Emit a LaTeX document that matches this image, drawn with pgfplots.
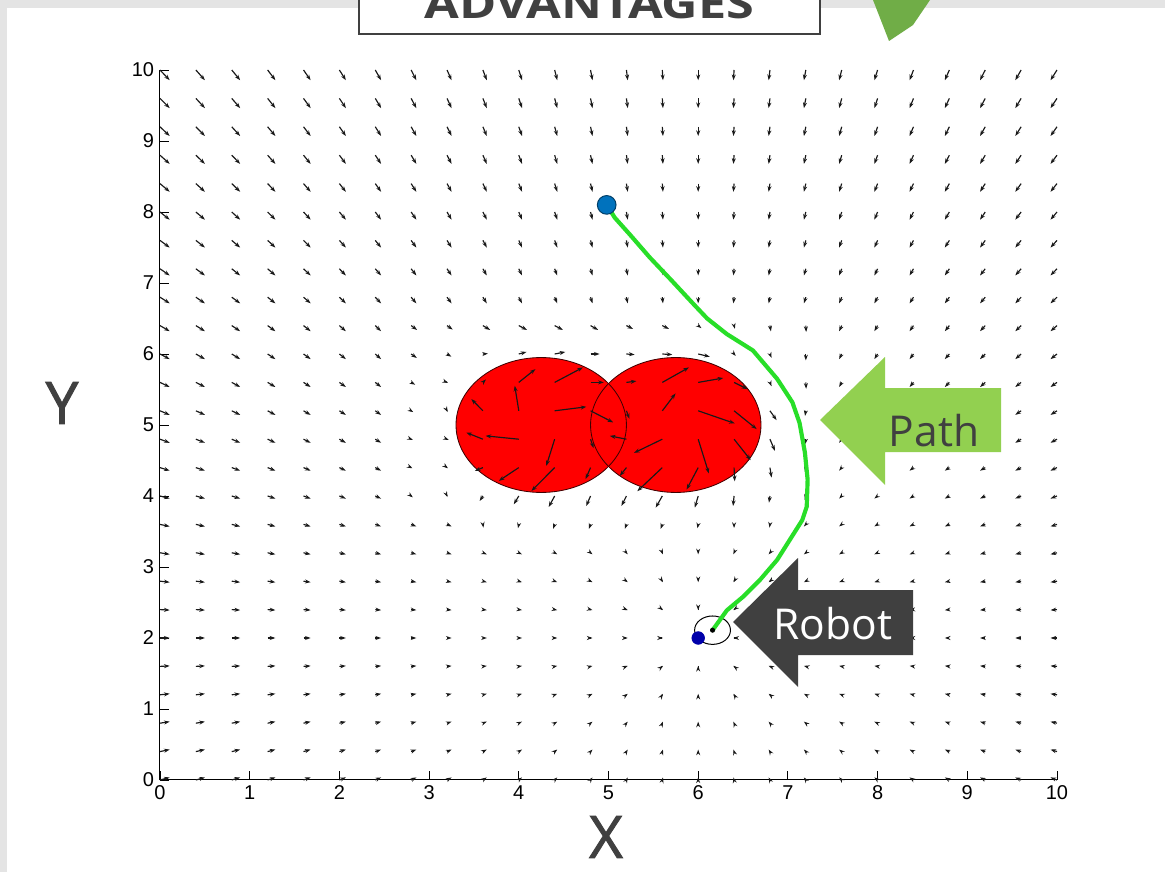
\documentclass[border=0pt]{standalone}
\usepackage{pgfplots}
\pgfplotsset{compat=1.18}
\usepackage{pgfplotstable}
\usetikzlibrary{arrows.meta}
\usepackage{fontspec}
\setmainfont{Liberation Sans}
\newfontfamily\opensans{Open Sans}
\newfontfamily\opensansheavy[FakeBold=1.6]{Open Sans}
\definecolor{slidegray}{HTML}{404040}
\definecolor{pathgreen}{HTML}{92D050}
\definecolor{accentgreen}{HTML}{70AD47}
\definecolor{edgegray}{HTML}{E4E4E4}
\definecolor{trail}{RGB}{40,222,40}
\definecolor{startblue}{RGB}{0,114,189}
\definecolor{goalblue}{RGB}{0,0,170}

% potential field sampled on a 0.4 grid: position (x,y) and force (u,v)
\pgfplotstableread[row sep=\\]{
x y u v\\
0 10 6 -8\\ 0.4 10 5.6 -8\\ 0.8 10 5.2 -8\\ 1.2 10 4.8 -8\\ 1.6 10 4.4 -8\\ 2 10 4 -8\\ 2.4 10 3.6 -8\\ 2.8 10 3.2 -8\\ 3.2 10 2.8 -8\\ 3.6 10 2.4 -8\\ 4 10 2 -8\\ 4.4 10 1.6 -8\\ 4.8 10 1.2 -8\\
5.2 10 0.8 -8\\ 5.6 10 0.4 -8\\ 6 10 0 -8\\ 6.4 10 -0.4 -8\\ 6.8 10 -0.8 -8\\ 7.2 10 -1.2 -8\\ 7.6 10 -1.6 -8\\ 8 10 -2 -8\\ 8.4 10 -2.4 -8\\ 8.8 10 -2.8 -8\\ 9.2 10 -3.2 -8\\ 9.6 10 -3.6 -8\\ 10 10 -4 -8\\
0 9.6 6 -7.6\\ 0.4 9.6 5.6 -7.6\\ 0.8 9.6 5.2 -7.6\\ 1.2 9.6 4.8 -7.6\\ 1.6 9.6 4.4 -7.6\\ 2 9.6 4 -7.6\\ 2.4 9.6 3.6 -7.6\\ 2.8 9.6 3.2 -7.6\\ 3.2 9.6 2.8 -7.6\\ 3.6 9.6 2.4 -7.6\\ 4 9.6 2 -7.6\\ 4.4 9.6 1.6 -7.6\\ 4.8 9.6 1.2 -7.6\\
5.2 9.6 0.8 -7.6\\ 5.6 9.6 0.4 -7.6\\ 6 9.6 0 -7.6\\ 6.4 9.6 -0.4 -7.6\\ 6.8 9.6 -0.8 -7.6\\ 7.2 9.6 -1.2 -7.6\\ 7.6 9.6 -1.6 -7.6\\ 8 9.6 -2 -7.6\\ 8.4 9.6 -2.4 -7.6\\ 8.8 9.6 -2.8 -7.6\\ 9.2 9.6 -3.2 -7.6\\ 9.6 9.6 -3.6 -7.6\\ 10 9.6 -4 -7.6\\
0 9.2 6 -7.2\\ 0.4 9.2 5.6 -7.2\\ 0.8 9.2 5.2 -7.2\\ 1.2 9.2 4.8 -7.2\\ 1.6 9.2 4.4 -7.2\\ 2 9.2 4 -7.2\\ 2.4 9.2 3.6 -7.2\\ 2.8 9.2 3.2 -7.2\\ 3.2 9.2 2.8 -7.2\\ 3.6 9.2 2.4 -7.2\\ 4 9.2 2 -7.2\\ 4.4 9.2 1.6 -7.2\\ 4.8 9.2 1.2 -7.2\\
5.2 9.2 0.8 -7.2\\ 5.6 9.2 0.4 -7.2\\ 6 9.2 0 -7.2\\ 6.4 9.2 -0.4 -7.2\\ 6.8 9.2 -0.8 -7.2\\ 7.2 9.2 -1.2 -7.2\\ 7.6 9.2 -1.6 -7.2\\ 8 9.2 -2 -7.2\\ 8.4 9.2 -2.4 -7.2\\ 8.8 9.2 -2.8 -7.2\\ 9.2 9.2 -3.2 -7.2\\ 9.6 9.2 -3.6 -7.2\\ 10 9.2 -4 -7.2\\
0 8.8 6 -6.8\\ 0.4 8.8 5.6 -6.8\\ 0.8 8.8 5.2 -6.8\\ 1.2 8.8 4.8 -6.8\\ 1.6 8.8 4.4 -6.8\\ 2 8.8 4 -6.8\\ 2.4 8.8 3.6 -6.8\\ 2.8 8.8 3.2 -6.8\\ 3.2 8.8 2.8 -6.8\\ 3.6 8.8 2.4 -6.8\\ 4 8.8 2 -6.8\\ 4.4 8.8 1.6 -6.8\\ 4.8 8.8 1.2 -6.8\\
5.2 8.8 0.8 -6.8\\ 5.6 8.8 0.4 -6.8\\ 6 8.8 0 -6.8\\ 6.4 8.8 -0.4 -6.8\\ 6.8 8.8 -0.8 -6.8\\ 7.2 8.8 -1.2 -6.8\\ 7.6 8.8 -1.6 -6.8\\ 8 8.8 -2 -6.8\\ 8.4 8.8 -2.4 -6.8\\ 8.8 8.8 -2.8 -6.8\\ 9.2 8.8 -3.2 -6.8\\ 9.6 8.8 -3.6 -6.8\\ 10 8.8 -4 -6.8\\
0 8.4 6 -6.4\\ 0.4 8.4 5.6 -6.4\\ 0.8 8.4 5.2 -6.4\\ 1.2 8.4 4.8 -6.4\\ 1.6 8.4 4.4 -6.4\\ 2 8.4 4 -6.4\\ 2.4 8.4 3.6 -6.4\\ 2.8 8.4 3.2 -6.4\\ 3.2 8.4 2.8 -6.4\\ 3.6 8.4 2.4 -6.4\\ 4 8.4 2 -6.4\\ 4.4 8.4 1.6 -6.4\\ 4.8 8.4 1.2 -6.4\\
5.2 8.4 0.8 -6.4\\ 5.6 8.4 0.4 -6.4\\ 6 8.4 0 -6.4\\ 6.4 8.4 -0.4 -6.4\\ 6.8 8.4 -0.8 -6.4\\ 7.2 8.4 -1.2 -6.4\\ 7.6 8.4 -1.6 -6.4\\ 8 8.4 -2 -6.4\\ 8.4 8.4 -2.4 -6.4\\ 8.8 8.4 -2.8 -6.4\\ 9.2 8.4 -3.2 -6.4\\ 9.6 8.4 -3.6 -6.4\\ 10 8.4 -4 -6.4\\
0 8 6 -6\\ 0.4 8 5.6 -6\\ 0.8 8 5.2 -6\\ 1.2 8 4.8 -6\\ 1.6 8 4.4 -6\\ 2 8 4 -6\\ 2.4 8 3.6 -6\\ 2.8 8 3.2 -6\\ 3.2 8 2.8 -6\\ 3.6 8 2.4 -6\\ 4 8 2 -6\\ 4.4 8 1.6 -6\\ 4.8 8 1.2 -6\\
5.2 8 0.8 -6\\ 5.6 8 0.4 -6\\ 6 8 0 -6\\ 6.4 8 -0.4 -6\\ 6.8 8 -0.8 -6\\ 7.2 8 -1.2 -6\\ 7.6 8 -1.6 -6\\ 8 8 -2 -6\\ 8.4 8 -2.4 -6\\ 8.8 8 -2.8 -6\\ 9.2 8 -3.2 -6\\ 9.6 8 -3.6 -6\\ 10 8 -4 -6\\
0 7.6 6 -5.6\\ 0.4 7.6 5.6 -5.6\\ 0.8 7.6 5.2 -5.6\\ 1.2 7.6 4.8 -5.6\\ 1.6 7.6 4.4 -5.6\\ 2 7.6 4 -5.6\\ 2.4 7.6 3.6 -5.6\\ 2.8 7.6 3.2 -5.6\\ 3.2 7.6 2.8 -5.6\\ 3.6 7.6 2.4 -5.6\\ 4 7.6 2 -5.6\\ 4.4 7.6 1.6 -5.6\\ 4.8 7.6 1.2 -5.6\\
5.2 7.6 0.8 -5.6\\ 5.6 7.6 0.4 -5.6\\ 6 7.6 0 -5.6\\ 6.4 7.6 -0.4 -5.6\\ 6.8 7.6 -0.8 -5.6\\ 7.2 7.6 -1.2 -5.6\\ 7.6 7.6 -1.6 -5.6\\ 8 7.6 -2 -5.6\\ 8.4 7.6 -2.4 -5.6\\ 8.8 7.6 -2.8 -5.6\\ 9.2 7.6 -3.2 -5.6\\ 9.6 7.6 -3.6 -5.6\\ 10 7.6 -4 -5.6\\
0 7.2 6 -5.2\\ 0.4 7.2 5.6 -5.2\\ 0.8 7.2 5.2 -5.2\\ 1.2 7.2 4.8 -5.2\\ 1.6 7.2 4.4 -5.2\\ 2 7.2 4 -5.2\\ 2.4 7.2 3.6 -5.2\\ 2.8 7.2 3.2 -5.2\\ 3.2 7.2 2.8 -5.2\\ 3.6 7.2 2.4 -5.2\\ 4 7.2 2 -5.2\\ 4.4 7.2 1.6 -5.2\\ 4.8 7.2 1.2 -5.2\\
5.2 7.2 0.8 -5.2\\ 5.6 7.2 0.4 -5.2\\ 6 7.2 0 -5.2\\ 6.4 7.2 -0.4 -5.2\\ 6.8 7.2 -0.8 -5.2\\ 7.2 7.2 -1.2 -5.2\\ 7.6 7.2 -1.6 -5.2\\ 8 7.2 -2 -5.2\\ 8.4 7.2 -2.4 -5.2\\ 8.8 7.2 -2.8 -5.2\\ 9.2 7.2 -3.2 -5.2\\ 9.6 7.2 -3.6 -5.2\\ 10 7.2 -4 -5.2\\
0 6.8 6 -4.8\\ 0.4 6.8 5.6 -4.8\\ 0.8 6.8 5.2 -4.8\\ 1.2 6.8 4.8 -4.8\\ 1.6 6.8 4.4 -4.8\\ 2 6.8 4 -4.8\\ 2.4 6.8 3.6 -4.8\\ 2.8 6.8 3.2 -4.8\\ 3.2 6.8 2.8 -4.8\\ 3.6 6.8 2.4 -4.8\\ 4 6.8 2 -4.8\\ 4.4 6.8 1.6 -4.8\\ 4.8 6.8 1.2 -4.8\\
5.2 6.8 0.8 -4.8\\ 5.6 6.8 0.4 -4.8\\ 6 6.8 0 -4.8\\ 6.4 6.8 -0.4 -4.8\\ 6.8 6.8 -0.8 -4.8\\ 7.2 6.8 -1.2 -4.8\\ 7.6 6.8 -1.6 -4.8\\ 8 6.8 -2 -4.8\\ 8.4 6.8 -2.4 -4.8\\ 8.8 6.8 -2.8 -4.8\\ 9.2 6.8 -3.2 -4.8\\ 9.6 6.8 -3.6 -4.8\\ 10 6.8 -4 -4.8\\
0 6.4 6 -4.4\\ 0.4 6.4 5.6 -4.4\\ 0.8 6.4 5.2 -4.4\\ 1.2 6.4 4.8 -4.4\\ 1.6 6.4 4.4 -4.4\\ 2 6.4 4 -4.4\\ 2.4 6.4 3.6 -4.4\\ 2.8 6.4 3.7 -3.4\\ 3.2 6.4 3.5 -3.1\\ 3.6 6.4 4.5 -3.4\\ 4 6.4 5.1 -3.4\\ 4.4 6.4 5.1 -3.4\\ 4.8 6.4 4.7 -3.4\\
5.2 6.4 4.1 -2.6\\ 5.6 6.4 4.1 -2.6\\ 6 6.4 2 -2\\ 6.4 6.4 0.5 -2.5\\ 6.8 6.4 0.6 -4.5\\ 7.2 6.4 0.2 -5\\ 7.6 6.4 -1.6 -4.4\\ 8 6.4 -2 -4.4\\ 8.4 6.4 -2.4 -4.4\\ 8.8 6.4 -2.8 -4.4\\ 9.2 6.4 -3.2 -4.4\\ 9.6 6.4 -3.6 -4.4\\ 10 6.4 -4 -4.4\\
0 6 6 -4\\ 0.4 6 5.6 -4\\ 0.8 6 5.2 -4\\ 1.2 6 4.8 -4\\ 1.6 6 4.4 -4\\ 2 6 4 -4\\ 2.4 6 3.6 -4\\ 2.8 6 3.5 -3.1\\ 3.2 6 2.7 -2.1\\ 3.6 6 3.1 0.3\\ 4 6 4.8 1.6\\ 4.4 6 6.6 1.6\\ 4.8 6 5.6 0\\
5.2 6 5.1 -0.5\\ 5.6 6 6.2 -0.5\\ 6 6 7.2 -2.1\\ 6.4 6 1 -1.5\\ 6.8 6 1 -3\\ 7.2 6 0 -5\\ 7.6 6 -1.6 -4\\ 8 6 -2 -4\\ 8.4 6 -2.4 -4\\ 8.8 6 -2.8 -4\\ 9.2 6 -3.2 -4\\ 9.6 6 -3.6 -4\\ 10 6 -4 -4\\
0 5.6 6 -3.6\\ 0.4 5.6 5.6 -3.6\\ 0.8 5.6 5.2 -3.6\\ 1.2 5.6 4.8 -3.6\\ 1.6 5.6 4.4 -3.6\\ 2 5.6 4 -3.6\\ 2.4 5.6 3.6 -3.6\\ 2.8 5.6 2.5 -1.8\\ 3.2 5.6 0.6 -0.3\\ 3.6 5.6 1.9 2.3\\ 4 5.6 10.3 10.4\\ 4.4 5.6 17.5 11.7\\ 4.8 5.6 8.2 0\\
5.2 5.6 6.2 1\\ 5.6 5.6 16.5 11.7\\ 6 5.6 15.5 3.4\\ 6.4 5.6 8.2 -5.2\\ 6.8 5.6 1 -3\\ 7.2 5.6 0.2 -5\\ 7.6 5.6 -1.6 -3.6\\ 8 5.6 -2 -3.6\\ 8.4 5.6 -2.4 -3.6\\ 8.8 5.6 -2.8 -3.6\\ 9.2 5.6 -3.2 -3.6\\ 9.6 5.6 -3.6 -3.6\\ 10 5.6 -4 -3.6\\
0 5.2 6 -3.2\\ 0.4 5.2 5.6 -3.2\\ 0.8 5.2 5.2 -3.2\\ 1.2 5.2 4.8 -3.2\\ 1.6 5.2 4.4 -3.2\\ 2 5.2 4 -3.2\\ 2.4 5.2 3.6 -3.2\\ 2.8 5.2 1.3 -1\\ 3.2 5.2 0.4 -1\\ 3.6 5.2 -7.2 9.2\\ 4 5.2 -2.5 19.6\\ 4.4 5.2 19.6 3.1\\ 4.8 5.2 14 -9.1\\
5.2 5.2 1.9 -6.3\\ 5.6 5.2 8.2 13.6\\ 6 5.2 22.7 -9.9\\ 6.4 5.2 14 -14.3\\ 6.8 5.2 4.1 -7.3\\ 7.2 5.2 -0.5 -4\\ 7.6 5.2 -1.6 -3.2\\ 8 5.2 -2 -3.2\\ 8.4 5.2 -2.4 -3.2\\ 8.8 5.2 -2.8 -3.2\\ 9.2 5.2 -3.2 -3.2\\ 9.6 5.2 -3.6 -3.2\\ 10 5.2 -4 -3.2\\
0 4.8 6 -2.8\\ 0.4 4.8 5.6 -2.8\\ 0.8 4.8 5.2 -2.8\\ 1.2 4.8 4.8 -2.8\\ 1.6 4.8 4.4 -2.8\\ 2 4.8 4 -2.8\\ 2.4 4.8 3.6 -2.8\\ 2.8 4.8 1 -0.5\\ 3.2 4.8 1 -0.5\\ 3.6 4.8 -10.3 5.2\\ 4 4.8 -20.6 2.6\\ 4.4 4.8 -5.2 -20.9\\ 4.8 4.8 1.9 -7\\
5.2 4.8 -10.3 2.6\\ 5.6 4.8 -17.5 -10.7\\ 6 4.8 6.6 -26.8\\ 6.4 4.8 10.3 -16.4\\ 6.8 4.8 3.1 -9.1\\ 7.2 4.8 -0.5 -4\\ 7.6 4.8 -1.6 -2.8\\ 8 4.8 -2 -2.8\\ 8.4 4.8 -2.4 -2.8\\ 8.8 4.8 -2.8 -2.8\\ 9.2 4.8 -3.2 -2.8\\ 9.6 4.8 -3.6 -2.8\\ 10 4.8 -4 -2.8\\
0 4.4 6 -2.4\\ 0.4 4.4 5.6 -2.4\\ 0.8 4.4 5.2 -2.4\\ 1.2 4.4 4.8 -2.4\\ 1.6 4.4 4.4 -2.4\\ 2 4.4 4 -2.4\\ 2.4 4.4 3.6 -2.4\\ 2.8 4.4 0.8 -0.5\\ 3.2 4.4 0.5 -0.5\\ 3.6 4.4 -5 -2.6\\ 4 4.4 -12.4 -10.4\\ 4.4 4.4 -14.4 -18.3\\ 4.8 4.4 -3.1 -9.1\\
5.2 4.4 -4.1 -6.5\\ 5.6 4.4 -15.5 -18.5\\ 6 4.4 -7.2 -17.2\\ 6.4 4.4 0.4 -10.7\\ 6.8 4.4 1 -7.8\\ 7.2 4.4 -0.5 -3.5\\ 7.6 4.4 -1.6 -2.4\\ 8 4.4 -2 -2.4\\ 8.4 4.4 -2.4 -2.4\\ 8.8 4.4 -2.8 -2.4\\ 9.2 4.4 -3.2 -2.4\\ 9.6 4.4 -3.6 -2.4\\ 10 4.4 -4 -2.4\\
0 4 6 -2\\ 0.4 4 5.6 -2\\ 0.8 4 5.2 -2\\ 1.2 4 4.8 -2\\ 1.6 4 4.4 -2\\ 2 4 4 -2\\ 2.4 4 3.6 -2\\ 2.8 4 1 -1\\ 3.2 4 0.3 -0.8\\ 3.6 4 -2 -3.9\\ 4 4 -3.1 -6.5\\ 4.4 4 -3.7 -8.6\\ 4.8 4 -2.7 -7.8\\
5.2 4 -3.1 -7.8\\ 5.6 4 -4.1 -9.1\\ 6 4 -2.1 -9.1\\ 6.4 4 -0.6 -7.8\\ 6.8 4 -0.6 -5.2\\ 7.2 4 -0.7 -3\\ 7.6 4 -1.6 -2\\ 8 4 -2 -2\\ 8.4 4 -2.4 -2\\ 8.8 4 -2.8 -2\\ 9.2 4 -3.2 -2\\ 9.6 4 -3.6 -2\\ 10 4 -4 -2\\
0 3.6 6 -1.6\\ 0.4 3.6 5.6 -1.6\\ 0.8 3.6 5.2 -1.6\\ 1.2 3.6 4.8 -1.6\\ 1.6 3.6 4.4 -1.6\\ 2 3.6 4 -1.6\\ 2.4 3.6 3.6 -1.6\\ 2.8 3.6 3.2 -1.6\\ 3.2 3.6 2.8 -1.6\\ 3.6 3.6 0.3 -2.5\\ 4 3.6 -0.5 -3\\ 4.4 3.6 -1 -3.5\\ 4.8 3.6 -1 -3.5\\
5.2 3.6 -1 -3.5\\ 5.6 3.6 -1 -3.5\\ 6 3.6 -0.5 -3\\ 6.4 3.6 0 -2.8\\ 6.8 3.6 -0.3 -2.5\\ 7.2 3.6 -1.2 -1.6\\ 7.6 3.6 -1.6 -1.6\\ 8 3.6 -2 -1.6\\ 8.4 3.6 -2.4 -1.6\\ 8.8 3.6 -2.8 -1.6\\ 9.2 3.6 -3.2 -1.6\\ 9.6 3.6 -3.6 -1.6\\ 10 3.6 -4 -1.6\\
0 3.2 6 -1.2\\ 0.4 3.2 5.6 -1.2\\ 0.8 3.2 5.2 -1.2\\ 1.2 3.2 4.8 -1.2\\ 1.6 3.2 4.4 -1.2\\ 2 3.2 4 -1.2\\ 2.4 3.2 3.6 -1.2\\ 2.8 3.2 3.2 -1.2\\ 3.2 3.2 2.8 -1.2\\ 3.6 3.2 2.4 -1.2\\ 4 3.2 2 -1.2\\ 4.4 3.2 1.6 -1.2\\ 4.8 3.2 1.2 -1.2\\
5.2 3.2 0.8 -1.2\\ 5.6 3.2 0.4 -1.2\\ 6 3.2 0 -1.2\\ 6.4 3.2 -0.4 -1.2\\ 6.8 3.2 -0.8 -1.2\\ 7.2 3.2 -1.2 -1.2\\ 7.6 3.2 -1.6 -1.2\\ 8 3.2 -2 -1.2\\ 8.4 3.2 -2.4 -1.2\\ 8.8 3.2 -2.8 -1.2\\ 9.2 3.2 -3.2 -1.2\\ 9.6 3.2 -3.6 -1.2\\ 10 3.2 -4 -1.2\\
0 2.8 6 -0.8\\ 0.4 2.8 5.6 -0.8\\ 0.8 2.8 5.2 -0.8\\ 1.2 2.8 4.8 -0.8\\ 1.6 2.8 4.4 -0.8\\ 2 2.8 4 -0.8\\ 2.4 2.8 3.6 -0.8\\ 2.8 2.8 3.2 -0.8\\ 3.2 2.8 2.8 -0.8\\ 3.6 2.8 2.4 -0.8\\ 4 2.8 2 -0.8\\ 4.4 2.8 1.6 -0.8\\ 4.8 2.8 1.2 -0.8\\
5.2 2.8 0.8 -0.8\\ 5.6 2.8 0.4 -0.8\\ 6 2.8 0 -0.8\\ 6.4 2.8 -0.4 -0.8\\ 6.8 2.8 -0.8 -0.8\\ 7.2 2.8 -1.2 -0.8\\ 7.6 2.8 -1.6 -0.8\\ 8 2.8 -2 -0.8\\ 8.4 2.8 -2.4 -0.8\\ 8.8 2.8 -2.8 -0.8\\ 9.2 2.8 -3.2 -0.8\\ 9.6 2.8 -3.6 -0.8\\ 10 2.8 -4 -0.8\\
0 2.4 6 -0.4\\ 0.4 2.4 5.6 -0.4\\ 0.8 2.4 5.2 -0.4\\ 1.2 2.4 4.8 -0.4\\ 1.6 2.4 4.4 -0.4\\ 2 2.4 4 -0.4\\ 2.4 2.4 3.6 -0.4\\ 2.8 2.4 3.2 -0.4\\ 3.2 2.4 2.8 -0.4\\ 3.6 2.4 2.4 -0.4\\ 4 2.4 2 -0.4\\ 4.4 2.4 1.6 -0.4\\ 4.8 2.4 1.2 -0.4\\
5.2 2.4 0.8 -0.4\\ 5.6 2.4 0.4 -0.4\\ 6 2.4 0 -0.4\\ 6.4 2.4 -0.4 -0.4\\ 6.8 2.4 -0.8 -0.4\\ 7.2 2.4 -1.2 -0.4\\ 7.6 2.4 -1.6 -0.4\\ 8 2.4 -2 -0.4\\ 8.4 2.4 -2.4 -0.4\\ 8.8 2.4 -2.8 -0.4\\ 9.2 2.4 -3.2 -0.4\\ 9.6 2.4 -3.6 -0.4\\ 10 2.4 -4 -0.4\\
0 2 6 0\\ 0.4 2 5.6 0\\ 0.8 2 5.2 0\\ 1.2 2 4.8 0\\ 1.6 2 4.4 0\\ 2 2 4 0\\ 2.4 2 3.6 0\\ 2.8 2 3.2 0\\ 3.2 2 2.8 0\\ 3.6 2 2.4 0\\ 4 2 2 0\\ 4.4 2 1.6 0\\ 4.8 2 1.2 0\\
5.2 2 0.8 0\\ 5.6 2 0.4 0\\ 6 2 0.05 0\\ 6.4 2 -0.4 0\\ 6.8 2 -0.8 0\\ 7.2 2 -1.2 0\\ 7.6 2 -1.6 0\\ 8 2 -2 0\\ 8.4 2 -2.4 0\\ 8.8 2 -2.8 0\\ 9.2 2 -3.2 0\\ 9.6 2 -3.6 0\\ 10 2 -4 0\\
0 1.6 6 0.4\\ 0.4 1.6 5.6 0.4\\ 0.8 1.6 5.2 0.4\\ 1.2 1.6 4.8 0.4\\ 1.6 1.6 4.4 0.4\\ 2 1.6 4 0.4\\ 2.4 1.6 3.6 0.4\\ 2.8 1.6 3.2 0.4\\ 3.2 1.6 2.8 0.4\\ 3.6 1.6 2.4 0.4\\ 4 1.6 2 0.4\\ 4.4 1.6 1.6 0.4\\ 4.8 1.6 1.2 0.4\\
5.2 1.6 0.8 0.4\\ 5.6 1.6 0.4 0.4\\ 6 1.6 0 0.4\\ 6.4 1.6 -0.4 0.4\\ 6.8 1.6 -0.8 0.4\\ 7.2 1.6 -1.2 0.4\\ 7.6 1.6 -1.6 0.4\\ 8 1.6 -2 0.4\\ 8.4 1.6 -2.4 0.4\\ 8.8 1.6 -2.8 0.4\\ 9.2 1.6 -3.2 0.4\\ 9.6 1.6 -3.6 0.4\\ 10 1.6 -4 0.4\\
0 1.2 6 0.8\\ 0.4 1.2 5.6 0.8\\ 0.8 1.2 5.2 0.8\\ 1.2 1.2 4.8 0.8\\ 1.6 1.2 4.4 0.8\\ 2 1.2 4 0.8\\ 2.4 1.2 3.6 0.8\\ 2.8 1.2 3.2 0.8\\ 3.2 1.2 2.8 0.8\\ 3.6 1.2 2.4 0.8\\ 4 1.2 2 0.8\\ 4.4 1.2 1.6 0.8\\ 4.8 1.2 1.2 0.8\\
5.2 1.2 0.8 0.8\\ 5.6 1.2 0.4 0.8\\ 6 1.2 0 0.8\\ 6.4 1.2 -0.4 0.8\\ 6.8 1.2 -0.8 0.8\\ 7.2 1.2 -1.2 0.8\\ 7.6 1.2 -1.6 0.8\\ 8 1.2 -2 0.8\\ 8.4 1.2 -2.4 0.8\\ 8.8 1.2 -2.8 0.8\\ 9.2 1.2 -3.2 0.8\\ 9.6 1.2 -3.6 0.8\\ 10 1.2 -4 0.8\\
0 0.8 6 1.2\\ 0.4 0.8 5.6 1.2\\ 0.8 0.8 5.2 1.2\\ 1.2 0.8 4.8 1.2\\ 1.6 0.8 4.4 1.2\\ 2 0.8 4 1.2\\ 2.4 0.8 3.6 1.2\\ 2.8 0.8 3.2 1.2\\ 3.2 0.8 2.8 1.2\\ 3.6 0.8 2.4 1.2\\ 4 0.8 2 1.2\\ 4.4 0.8 1.6 1.2\\ 4.8 0.8 1.2 1.2\\
5.2 0.8 0.8 1.2\\ 5.6 0.8 0.4 1.2\\ 6 0.8 0 1.2\\ 6.4 0.8 -0.4 1.2\\ 6.8 0.8 -0.8 1.2\\ 7.2 0.8 -1.2 1.2\\ 7.6 0.8 -1.6 1.2\\ 8 0.8 -2 1.2\\ 8.4 0.8 -2.4 1.2\\ 8.8 0.8 -2.8 1.2\\ 9.2 0.8 -3.2 1.2\\ 9.6 0.8 -3.6 1.2\\ 10 0.8 -4 1.2\\
0 0.4 6 1.6\\ 0.4 0.4 5.6 1.6\\ 0.8 0.4 5.2 1.6\\ 1.2 0.4 4.8 1.6\\ 1.6 0.4 4.4 1.6\\ 2 0.4 4 1.6\\ 2.4 0.4 3.6 1.6\\ 2.8 0.4 3.2 1.6\\ 3.2 0.4 2.8 1.6\\ 3.6 0.4 2.4 1.6\\ 4 0.4 2 1.6\\ 4.4 0.4 1.6 1.6\\ 4.8 0.4 1.2 1.6\\
5.2 0.4 0.8 1.6\\ 5.6 0.4 0.4 1.6\\ 6 0.4 0 1.6\\ 6.4 0.4 -0.4 1.6\\ 6.8 0.4 -0.8 1.6\\ 7.2 0.4 -1.2 1.6\\ 7.6 0.4 -1.6 1.6\\ 8 0.4 -2 1.6\\ 8.4 0.4 -2.4 1.6\\ 8.8 0.4 -2.8 1.6\\ 9.2 0.4 -3.2 1.6\\ 9.6 0.4 -3.6 1.6\\ 10 0.4 -4 1.6\\
0 0 6 2\\ 0.4 0 5.6 2\\ 0.8 0 5.2 2\\ 1.2 0 4.8 2\\ 1.6 0 4.4 2\\ 2 0 4 2\\ 2.4 0 3.6 2\\ 2.8 0 3.2 2\\ 3.2 0 2.8 2\\ 3.6 0 2.4 2\\ 4 0 2 2\\ 4.4 0 1.6 2\\ 4.8 0 1.2 2\\
5.2 0 0.8 2\\ 5.6 0 0.4 2\\ 6 0 0 2\\ 6.4 0 -0.4 2\\ 6.8 0 -0.8 2\\ 7.2 0 -1.2 2\\ 7.6 0 -1.6 2\\ 8 0 -2 2\\ 8.4 0 -2.4 2\\ 8.8 0 -2.8 2\\ 9.2 0 -3.2 2\\ 9.6 0 -3.6 2\\ 10 0 -4 2\\
}\field

\begin{document}
\begin{tikzpicture}
% slide background (1 unit = 1 screen pixel, y downwards)
\begin{scope}[x=0.6pt,y=-0.6pt]
\fill[white] (0,0) rectangle (1165,872);
\fill[edgegray] (0,0) rectangle (1165,8);
\fill[edgegray] (0,0) rectangle (7,872);
\end{scope}

\begin{axis}[
  at={(96pt,-468pt)}, anchor=south west,
  scale only axis, width=538.2pt, height=426pt,
  xmin=0, xmax=10, ymin=0, ymax=10,
  axis lines*=left,
  xtick={0,...,10}, ytick={0,...,10},
  tick align=inside, major tick length=5.5pt,
  tick style={black, line width=0.5pt},
  axis line style={black, line width=0.6pt},
  ticklabel style={font=\fontsize{12}{14}\selectfont},
  /pgf/number format/assume math mode=true,
  clip=false,
]
% obstacles
\fill[red] (axis cs:4.25,5) circle[radius=0.95];
\fill[red] (axis cs:5.75,5) circle[radius=0.95];
\draw[black!75!red, line width=0.5pt] (axis cs:4.25,5) circle[radius=0.95];
\draw[black!75!red, line width=0.5pt] (axis cs:5.75,5) circle[radius=0.95];

% force field
\addplot[black!90, line width=0.7pt, -{Stealth[length=3.4pt,width=2.4pt]},
  quiver={u=\thisrow{u}, v=\thisrow{v}, scale arrows=0.018}]
  table[x=x, y=y] {\field};

% goal and robot body
\addplot[only marks, mark=*, mark size=3.8pt, goalblue] coordinates {(6,2)};
\draw[black, line width=0.6pt, fill=white] (axis cs:6.16,2.11) circle[radius=0.2];

% travelled path
\addplot[trail, line width=2.5pt, line join=round, line cap=round] coordinates {
  (4.98,8.10) (5.07,7.92) (5.24,7.68) (5.46,7.36) (5.70,7.04) (5.95,6.70)
  (6.10,6.50) (6.32,6.28) (6.61,6.05) (6.88,5.65) (7.05,5.32) (7.13,5.03)
  (7.19,4.61) (7.22,4.23) (7.21,3.85) (7.16,3.66) (7.02,3.38) (6.88,3.10)
  (6.69,2.82) (6.50,2.58) (6.32,2.39) (6.16,2.11)};
\addplot[only marks, mark=*, mark size=1.3pt, black] coordinates {(6.16,2.11)};

% start position
\addplot[only marks, mark=*, mark size=5.6pt,
  mark options={fill=startblue, draw=startblue!55!black, line width=0.6pt}]
  coordinates {(4.98,8.10)};
\end{axis}

% slide annotations
\begin{scope}[x=0.6pt,y=-0.6pt]
\draw[overlay, slidegray, line width=1.1pt, fill=white] (359,-20) rectangle (820,34);
\node[overlay, anchor=base west, inner sep=0pt, text=slidegray] at (424,19)
  {\resizebox{198pt}{18pt}{\opensans\bfseries ADVANTAGES}};
\fill[accentgreen] (873,0) -- (930,0) -- (913,25) -- (889,41) -- cycle;

\node[text=slidegray, font=\opensansheavy\fontsize{35}{40}\selectfont] at (62,403) {Y};
\node[text=slidegray, font=\opensansheavy\fontsize{35}{40}\selectfont] at (606,837) {X};

\fill[pathgreen] (820,420) -- (885,357) -- (885,388) -- (1001,388) -- (1001,452)
  -- (885,452) -- (885,485) -- cycle;
\node[anchor=base, inner sep=0pt, text=slidegray,
  font=\opensans\fontsize{25.5}{30}\selectfont] at (934,446) {Path};

\fill[slidegray] (733,622) -- (798,558) -- (798,590) -- (913,590) -- (913,655)
  -- (798,655) -- (798,687) -- cycle;
\node[anchor=base, inner sep=0pt, text=white,
  font=\opensans\fontsize{25.5}{30}\selectfont] at (833,639) {Robot};
\end{scope}
\end{tikzpicture}
\end{document}
